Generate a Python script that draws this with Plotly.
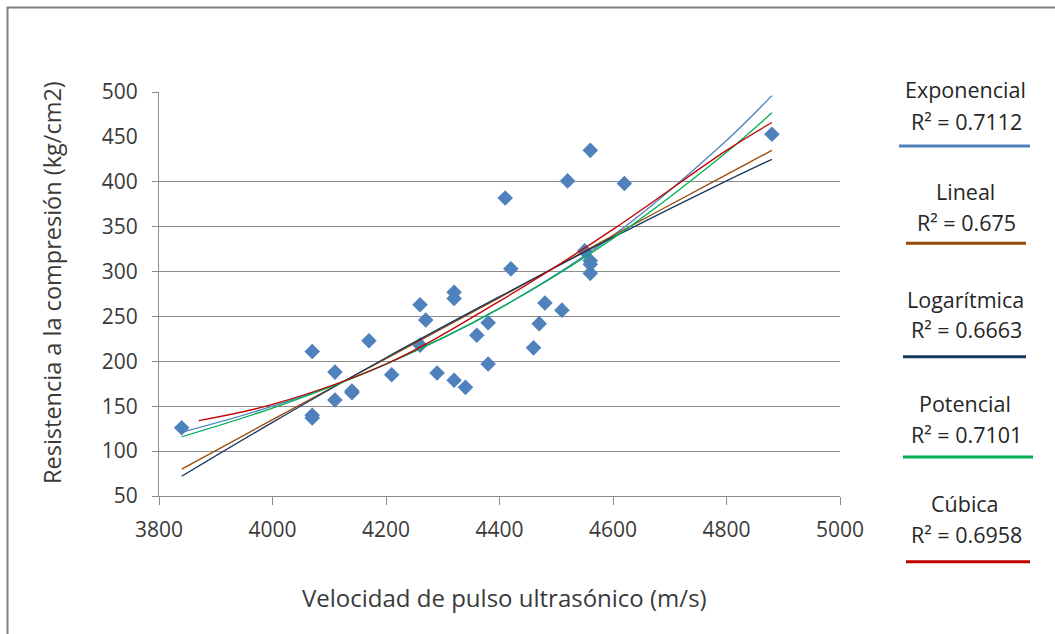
import plotly.graph_objects as go

# ---------------- data ----------------
velocidad = [3840, 4070, 4070, 4070, 4110, 4110, 4140, 4140, 4170, 4210,
             4260, 4260, 4270, 4290, 4320, 4320, 4320, 4340, 4360, 4380,
             4380, 4410, 4420, 4460, 4470, 4480, 4510, 4520, 4560, 4550,
             4560, 4560, 4560, 4620, 4880]
resistencia = [126, 211, 140, 137, 188, 157, 167, 165, 223, 185,
               263, 218, 246, 187, 277, 270, 179, 171, 229, 243,
               197, 382, 303, 215, 242, 265, 257, 401, 435, 323,
               312, 308, 298, 398, 453]

# trend lines, values at these velocities
tend_x = [3840, 4000, 4200, 4400, 4600, 4800, 4880]
exponencial_y = [121, 150, 197, 259, 340, 446, 496]
lineal_y = [80, 135, 203, 271, 340, 408, 435]
logaritmica_y = [72, 132, 204, 272, 338, 401, 425]
potencial_y = [116, 148, 197, 259, 337, 433, 477]
cubica_x = [3870, 4000, 4200, 4400, 4600, 4800, 4880]
cubica_y = [134, 152, 197, 267, 347, 435, 466]

nombres = ["Exponencial", "Lineal", "Logarítmica", "Potencial", "Cúbica"]
r2_textos = ["R² = 0.7112", "R² = 0.675", "R² = 0.6663", "R² = 0.7101", "R² = 0.6958"]

x_ticks = [3800, 4000, 4200, 4400, 4600, 4800, 5000]
y_ticks_grid = [50, 100, 150, 200, 250, 300, 350, 400, 500]
y_ticks_sin_grid = [450]

# ---------------- styling ----------------
FONT = "Open Sans"
TXT = "#3A3A3A"
GRID = "#8C8C8C"
colores = ["#4F81BD", "#984807", "#17375E", "#00B050", "#C00000"]
W, H = 1055, 634
L, R, T, B = 159, 215, 92, 138
PW, PH = W - L - R, H - T - B
TICK_SIZE = 21


def px(xp):
    return (xp - L) / PW


def py(yp):
    return (H - B - yp) / PH


fig = go.Figure()
fig.add_trace(go.Scatter(
    x=velocidad, y=resistencia, mode="markers",
    marker=dict(symbol="diamond", size=12, color="#4F81BD"),
    showlegend=False, hoverinfo="x+y"))

series = [(tend_x, exponencial_y), (tend_x, lineal_y), (tend_x, logaritmica_y),
          (tend_x, potencial_y), (cubica_x, cubica_y)]
for (xs, ys), nombre, col in zip(series, nombres, colores):
    fig.add_trace(go.Scatter(
        x=xs, y=ys, mode="lines", name=nombre, yaxis="y2",
        line=dict(color=col, width=1.3, shape="spline"),
        showlegend=False))

axis_common = dict(showline=True, linecolor=GRID, linewidth=1, zeroline=False,
                   tickfont=dict(family=FONT, size=TICK_SIZE, color=TXT))
fig.update_layout(
    width=W, height=H,
    margin=dict(l=L, r=R, t=T, b=B),
    paper_bgcolor="white", plot_bgcolor="white",
    xaxis=dict(range=[3800, 5000], tickvals=x_ticks, ticks="outside", ticklen=8,
               tickcolor=GRID, showgrid=False, ticklabelstandoff=7, **axis_common),
    yaxis=dict(range=[50, 500], tickvals=y_ticks_grid, ticks="outside", ticklen=6,
               tickcolor=GRID, showgrid=True, gridcolor=GRID, gridwidth=1,
               ticklabelstandoff=10, **axis_common),
    yaxis2=dict(range=[50, 500], overlaying="y", side="left", tickvals=y_ticks_sin_grid,
                ticks="outside", ticklen=6, tickcolor="rgba(0,0,0,0)",
                showgrid=False, showline=False, zeroline=False, ticklabelstandoff=10,
                tickfont=dict(family=FONT, size=TICK_SIZE, color=TXT)),
    font=dict(family=FONT, color=TXT),
)

annotations = [
    dict(text="Velocidad de pulso ultrasónico (m/s)", x=px(504), y=py(597),
         xref="paper", yref="paper", showarrow=False,
         font=dict(family=FONT, size=24, color=TXT), xanchor="center", yanchor="middle"),
    dict(text="Resistencia a la compresión (kg/cm2)", x=px(52), y=py(283),
         xref="paper", yref="paper", showarrow=False, textangle=-90,
         font=dict(family=FONT, size=23.5, color=TXT), xanchor="center", yanchor="middle"),
]
name_y = [89, 191.7, 299, 403, 503]
r2_y = [122, 223, 329, 434, 534]
line_y = [146, 243.3, 356.7, 457, 561.7]
line_x = [(899, 1030), (906, 1026), (903, 1026), (903, 1033), (906, 1030)]
shapes = [dict(type="rect", xref="paper", yref="paper", x0=px(7.5), y0=py(7.5),
               x1=px(1080), y1=py(700), line=dict(color="#808080", width=2),
               layer="below")]
for i in range(5):
    annotations.append(dict(text=nombres[i], x=px(965), y=py(name_y[i]), xref="paper",
                            yref="paper", showarrow=False, xanchor="center",
                            yanchor="middle", font=dict(family=FONT, size=21.5, color="#262626")))
    annotations.append(dict(text=r2_textos[i], x=px(966), y=py(r2_y[i]), xref="paper",
                            yref="paper", showarrow=False, xanchor="center",
                            yanchor="middle", font=dict(family=FONT, size=21.5, color="#262626")))
    shapes.append(dict(type="line", xref="paper", yref="paper",
                       x0=px(line_x[i][0]), x1=px(line_x[i][1]),
                       y0=py(line_y[i]), y1=py(line_y[i]),
                       line=dict(color=colores[i], width=3)))

fig.update_layout(annotations=annotations, shapes=shapes)
fig.write_html("out.html")
